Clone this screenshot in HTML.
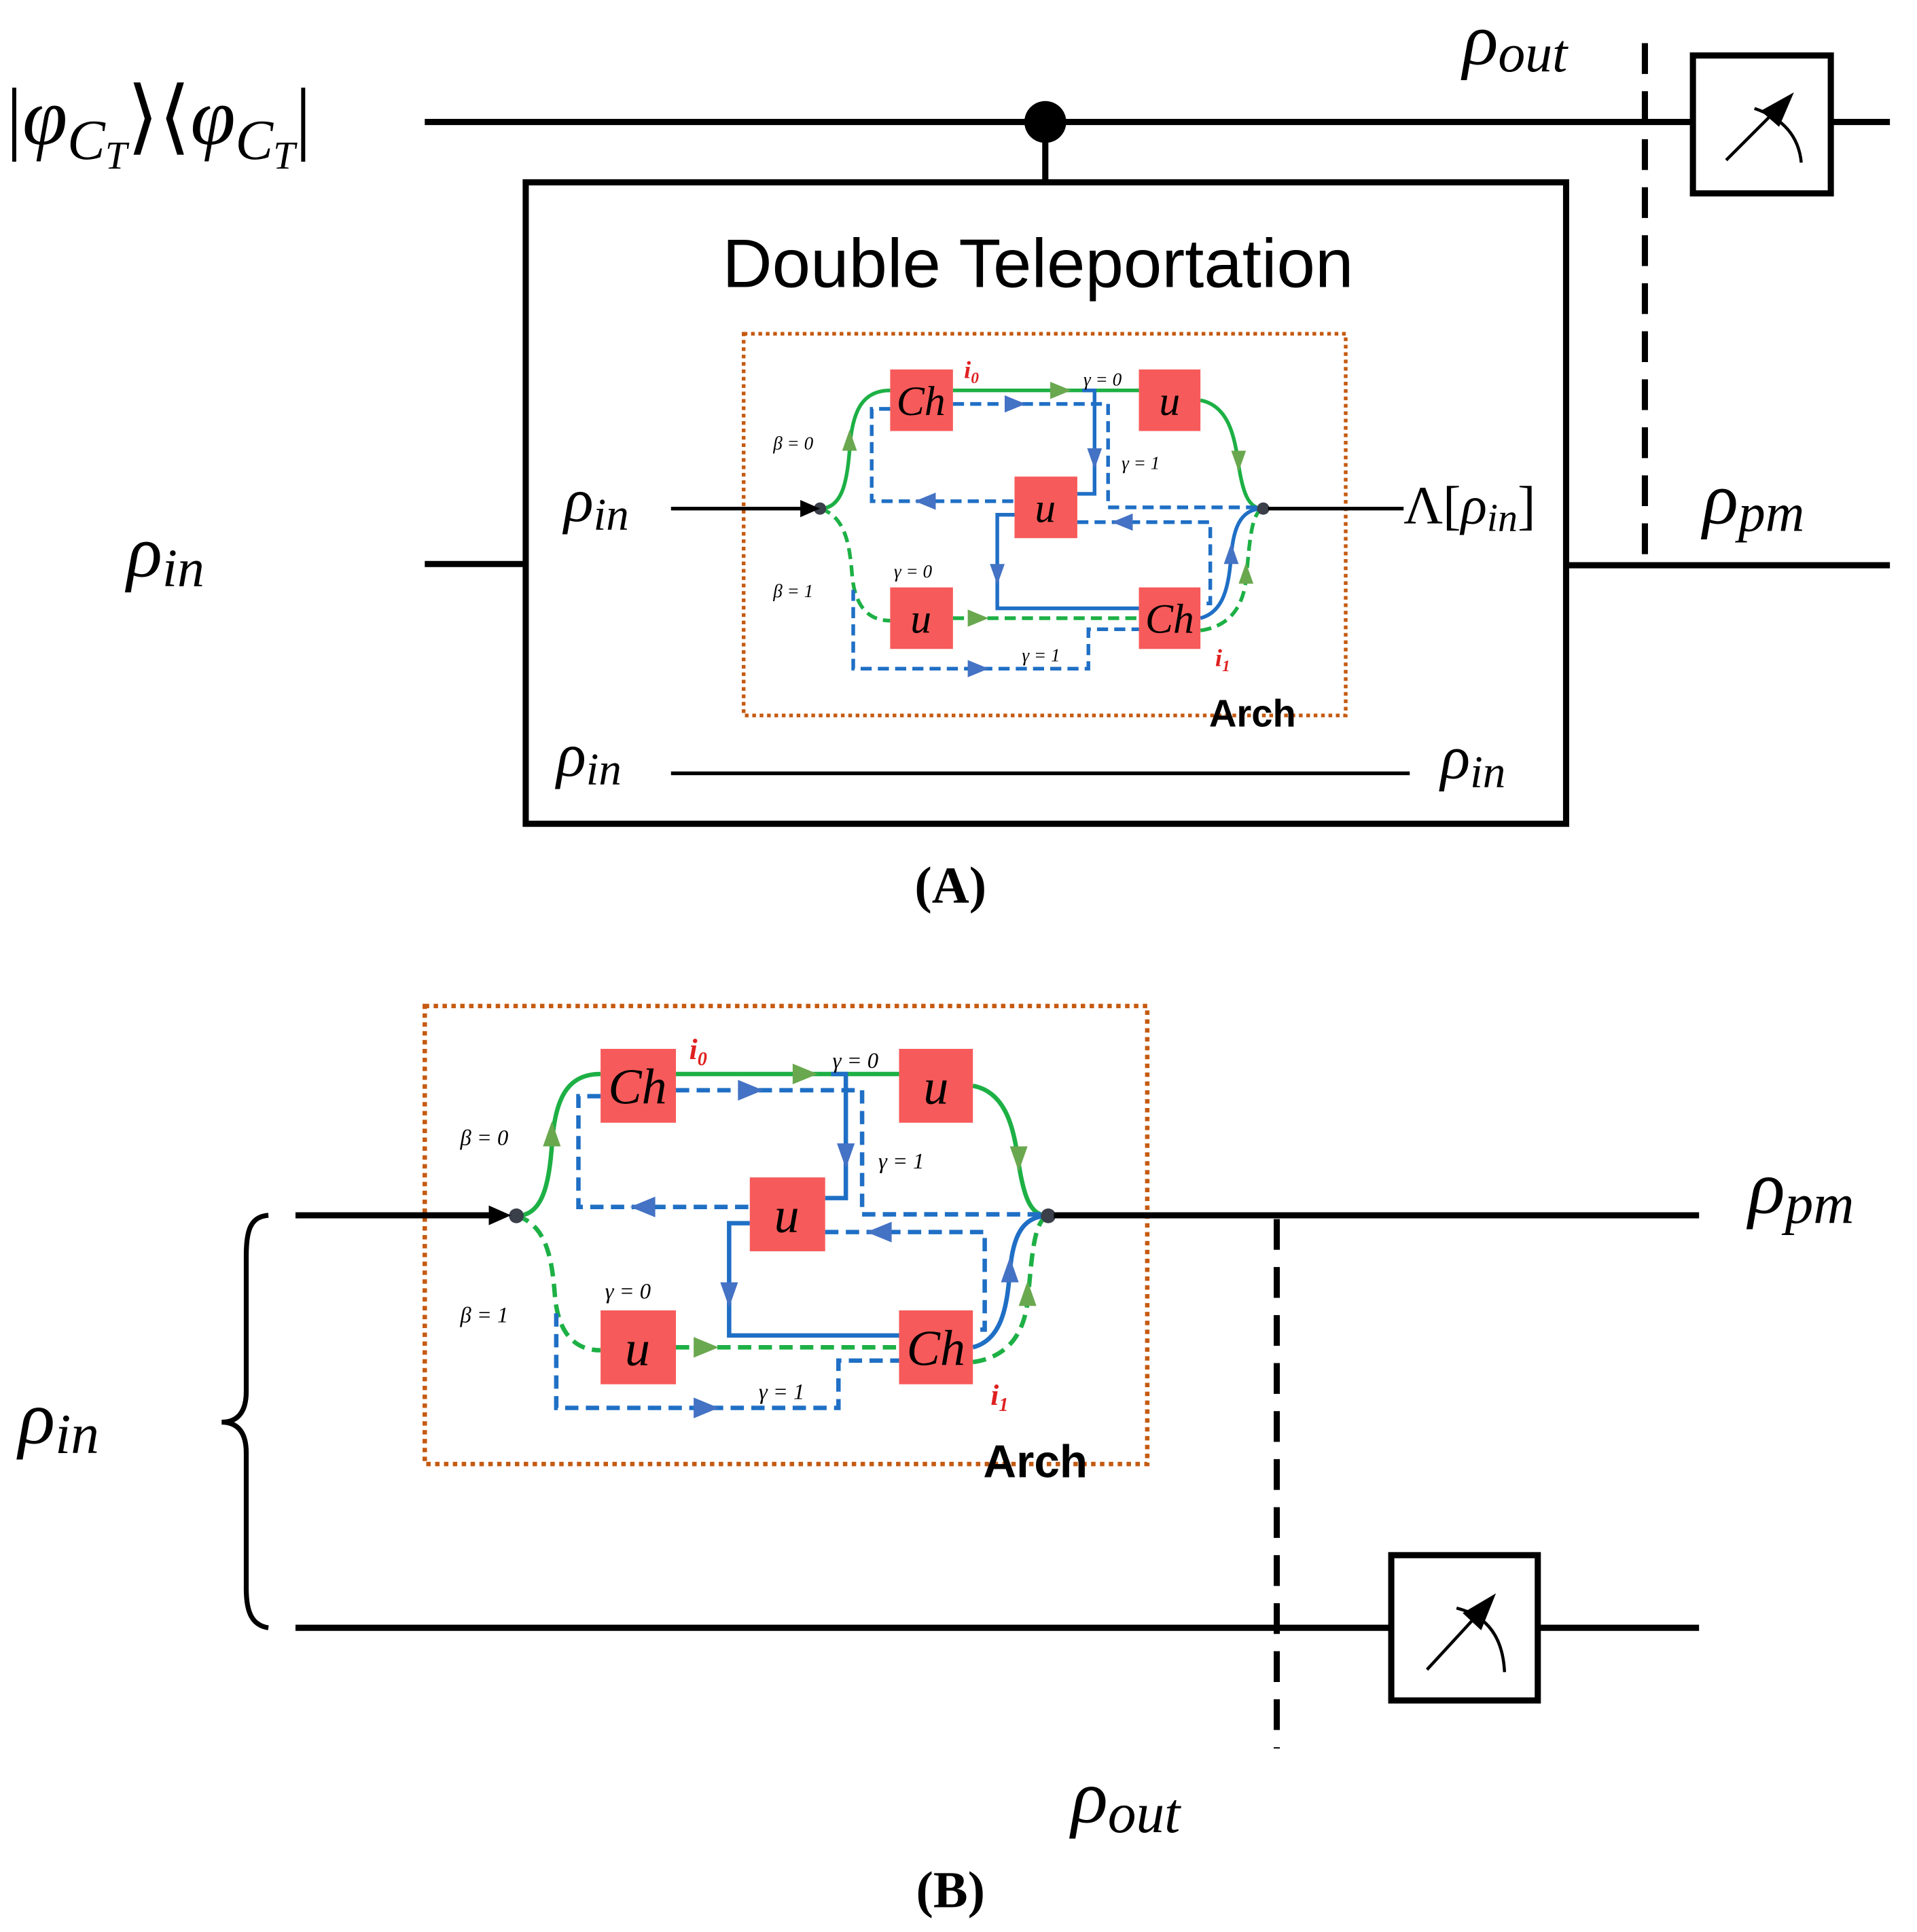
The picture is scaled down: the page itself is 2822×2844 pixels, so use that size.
<!DOCTYPE html>
<html><head><meta charset="utf-8"><style>html,body{margin:0;padding:0;background:#fff}svg{display:block}</style></head><body>
<svg width="2822" height="2844" viewBox="0 0 1557 1569" xmlns="http://www.w3.org/2000/svg">
<defs>
<g id="arch">
<rect x="0" y="0" width="489" height="310" fill="none" stroke="#c55a11" stroke-width="3" stroke-dasharray="3 3"/>
<g fill="none" stroke="#1db045" stroke-width="3">
<path d="M62,142 C80,142 84,120 86,95 C88,60 98,46 119,46"/>
<path d="M170,46 H321"/>
<path d="M371,54 C392,58 398,80 401,100 C405,130 410,142 422,142"/>
</g>
<g fill="none" stroke="#1db045" stroke-width="3" stroke-dasharray="9 5">
<path d="M62,142 C82,148 86,170 88,195 C90,222 102,233 119,233"/>
<path d="M170,231 H321"/>
<path d="M371,241 C392,238 405,225 408,200 C411,170 412,145 422,142"/>
</g>
<g fill="none" stroke="#1f6fc5" stroke-width="3">
<path d="M275,46 H285 V130 H271"/>
<path d="M220,147 H206 V223 H321"/>
<path d="M371,231 C390,226 394,205 396,180 C398,155 405,142 422,142"/>
</g>
<g fill="none" stroke="#1f6fc5" stroke-width="3" stroke-dasharray="9 5">
<path d="M170,57 H296 V141 H422"/>
<path d="M119,61 H104 V136 H220"/>
<path d="M271,153 H379 V219 H371"/>
<path d="M89,208 V272 H280 V240 H321"/>
</g>
<g fill="#6aa84f">
<polygon points="86,78 80,95 92,95"/>
<polygon points="266,46 249,39 249,53"/>
<polygon points="402,112 396,95 408,95"/>
<polygon points="199,231 182,224 182,238"/>
<polygon points="408,186 402,203 414,203"/>
</g>
<g fill="#4472c4">
<polygon points="229,57 212,50 212,64"/>
<polygon points="285,110 279,93 291,93"/>
<polygon points="139,136 156,129 156,143"/>
<polygon points="299,153 316,146 316,160"/>
<polygon points="206,204 200,187 212,187"/>
<polygon points="396,170 390,187 402,187"/>
<polygon points="199,272 182,265 182,279"/>
</g>
<g fill="#f75a5a">
<rect x="119" y="29" width="51" height="50"/>
<rect x="321" y="29" width="50" height="50"/>
<rect x="220" y="116" width="51" height="50"/>
<rect x="119" y="206" width="51" height="50"/>
<rect x="321" y="206" width="50" height="50"/>
</g>
<g font-family="Liberation Serif, serif" font-style="italic" font-size="34" fill="#000" text-anchor="middle">
<text x="144" y="66">Ch</text>
<text x="346" y="66">u</text>
<text x="245" y="153">u</text>
<text x="144" y="243">u</text>
<text x="346" y="243">Ch</text>
</g>
<g font-family="Liberation Serif, serif" font-style="italic" font-size="15" fill="#000">
<text x="24" y="94">β = 0</text>
<text x="24" y="214">β = 1</text>
<text x="276" y="42">γ = 0</text>
<text x="307" y="110">γ = 1</text>
<text x="122" y="198">γ = 0</text>
<text x="226" y="266">γ = 1</text>
</g>
<g font-family="Liberation Serif, serif" font-style="italic" font-weight="bold" font-size="20" fill="#e02020">
<text x="179" y="36">i<tspan font-size="13" dy="4">0</tspan></text>
<text x="383" y="270">i<tspan font-size="13" dy="4">1</tspan></text>
</g>
<circle cx="62" cy="142" r="5" fill="#3a3f4a"/>
<circle cx="422" cy="142" r="5" fill="#3a3f4a"/>
<text x="378" y="319" font-family="Liberation Sans, sans-serif" font-weight="bold" font-size="31" fill="#000">Arch</text>
</g>
</defs>

<g stroke="#000" stroke-width="5" fill="none">
<line x1="345" y1="99" x2="1375" y2="99"/>
<line x1="1487" y1="99" x2="1535" y2="99"/>
<line x1="849" y1="99" x2="849" y2="148"/>
<rect x="427" y="148" width="845" height="521"/>
<line x1="345" y1="458" x2="427" y2="458"/>
<line x1="1272" y1="459" x2="1535" y2="459"/>
<rect x="1375" y="45" width="112" height="112"/>
<line x1="1336" y1="35" x2="1336" y2="450" stroke-dasharray="25 14"/>
</g>
<circle cx="849" cy="99" r="17" fill="#000"/>
<g stroke="#000" stroke-width="2.5" fill="none">
<line x1="1402" y1="130" x2="1447" y2="85"/>
<path d="M1425,88 Q1460,100 1463,132"/>
</g>
<polygon points="1457,75 1430,90 1445,103" fill="#000"/>

<text x="843" y="233" text-anchor="middle" font-family="Liberation Sans, sans-serif" font-size="56" fill="#000">Double Teleportation</text>

<use href="#arch" transform="translate(604,271)"/>

<g stroke="#000" stroke-width="3" fill="none">
<line x1="545" y1="413" x2="660" y2="413"/>
<line x1="1030" y1="413" x2="1140" y2="413"/>
<line x1="545" y1="628" x2="1145" y2="628"/>
</g>
<polygon points="666,413 650,406 650,420" fill="#000"/>

<g font-family="Liberation Serif, serif" fill="#000">
<text x="5" y="117" font-size="66">|<tspan font-style="italic">φ</tspan><tspan font-style="italic" font-size="46" dy="12">C</tspan><tspan font-style="italic" font-size="32" dy="8">T</tspan><tspan dy="-20">⟩⟨</tspan><tspan font-style="italic">φ</tspan><tspan font-style="italic" font-size="46" dy="12">C</tspan><tspan font-style="italic" font-size="32" dy="8">T</tspan><tspan dy="-20">|</tspan></text>
<text x="1188" y="52" font-size="60" font-style="italic">ρ<tspan font-size="44" dy="6">out</tspan></text>
<text x="1383" y="425" font-size="60" font-style="italic">ρ<tspan font-size="44" dy="6">pm</tspan></text>
<text x="103" y="468" font-size="60" font-style="italic">ρ<tspan font-size="44" dy="8">in</tspan></text>
<text x="458" y="423" font-size="50" font-style="italic">ρ<tspan font-size="37" dy="7">in</tspan></text>
<text x="1140" y="425" font-size="44">Λ[<tspan font-style="italic">ρ</tspan><tspan font-style="italic" font-size="32" dy="6">in</tspan><tspan dy="-6">]</tspan></text>
<text x="452" y="630" font-size="50" font-style="italic">ρ<tspan font-size="37" dy="7">in</tspan></text>
<text x="1170" y="632" font-size="50" font-style="italic">ρ<tspan font-size="37" dy="7">in</tspan></text>
<text x="772" y="733" font-size="42" font-weight="bold" text-anchor="middle">(A)</text>
</g>

<use href="#arch" transform="translate(345,817) scale(1.2)"/>
<g stroke="#000" stroke-width="5" fill="none">
<line x1="240" y1="987" x2="405" y2="987"/>
<line x1="856" y1="987" x2="1380" y2="987"/>
<line x1="240" y1="1322" x2="1130" y2="1322"/>
<line x1="1249" y1="1322" x2="1380" y2="1322"/>
<rect x="1130" y="1263" width="119" height="118"/>
<line x1="1037" y1="990" x2="1037" y2="1420" stroke-dasharray="25 14"/>
</g>
<polygon points="415,987 397,979 397,995" fill="#000"/>
<path d="M218,987 C203,988 200,1000 200,1020 L200,1130 C200,1148 192,1155 180,1155 C192,1155 200,1162 200,1180 L200,1290 C200,1310 205,1320 218,1322" fill="none" stroke="#000" stroke-width="4"/>
<g stroke="#000" stroke-width="2.5" fill="none">
<line x1="1159" y1="1356" x2="1205" y2="1306"/>
<path d="M1183,1306 Q1220,1315 1222,1358"/>
</g>
<polygon points="1215,1294 1188,1310 1203,1324" fill="#000"/>

<g font-family="Liberation Serif, serif" fill="#000">
<text x="15" y="1172" font-size="62" font-style="italic">ρ<tspan font-size="46" dy="8">in</tspan></text>
<text x="1420" y="985" font-size="62" font-style="italic">ρ<tspan font-size="46" dy="8">pm</tspan></text>
<text x="870" y="1480" font-size="62" font-style="italic">ρ<tspan font-size="46" dy="8">out</tspan></text>
<text x="772" y="1549" font-size="42" font-weight="bold" text-anchor="middle">(B)</text>
</g>
</svg>
</body></html>
